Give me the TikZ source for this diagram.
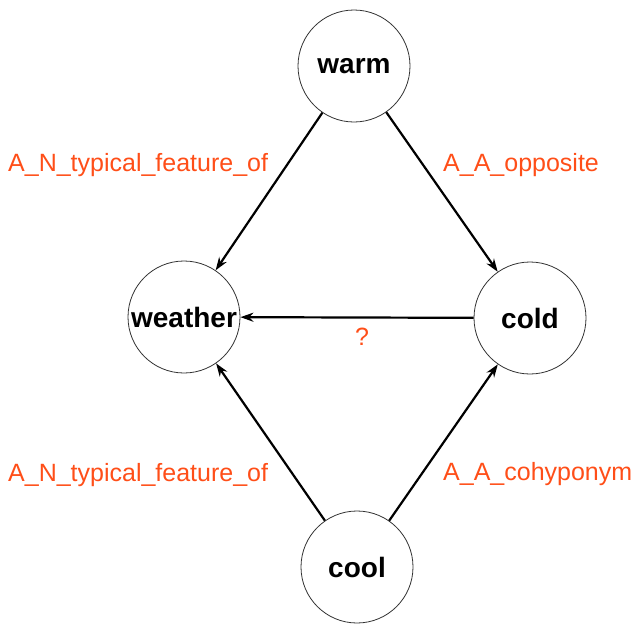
\documentclass[tikz,border=0pt]{standalone}
\usepackage{fontspec}
\setmainfont{Liberation Sans}
\usetikzlibrary{arrows.meta}
\definecolor{lbl}{RGB}{255,78,24}
\begin{document}
\begin{tikzpicture}[x=1pt,y=-1pt,
  concept/.style={circle,draw=black!80,line width=0.8pt,minimum size=112pt,inner sep=0pt,
    font=\fontsize{28}{30}\selectfont\bfseries},
  rel/.style={line width=2.2pt,-{Stealth[length=13pt,width=9pt]}},
  lab/.style={text=lbl,inner sep=0pt,font=\fontsize{25}{27}\selectfont}]
\useasboundingbox (0,0) rectangle (635,624);
\node[concept] (warm) at (354,66) {warm};
\node[concept] (weather) at (184,317) {weather};
\node[concept] (cold) at (530,318) {cold};
\node[concept] (cool) at (357,567) {cool};
\draw[rel] (warm) -- (weather);
\draw[rel] (warm) -- (cold);
\draw[rel] (cold) -- (weather);
\draw[rel] (cool) -- (weather);
\draw[rel] (cool) -- (cold);
\node[lab,anchor=base west] (l1) at (8,171) {A\_N\_typical\_feature\_of};
\node[lab,anchor=base west] (l2) at (443,171) {A\_A\_opposite};
\node[lab,anchor=base west] (l3) at (8,481) {A\_N\_typical\_feature\_of};
\node[lab,anchor=base west] (l4) at (443,480) {A\_A\_cohyponym};
\node[lab,anchor=base] (l5) at (362,345) {?};
\end{tikzpicture}
\end{document}
